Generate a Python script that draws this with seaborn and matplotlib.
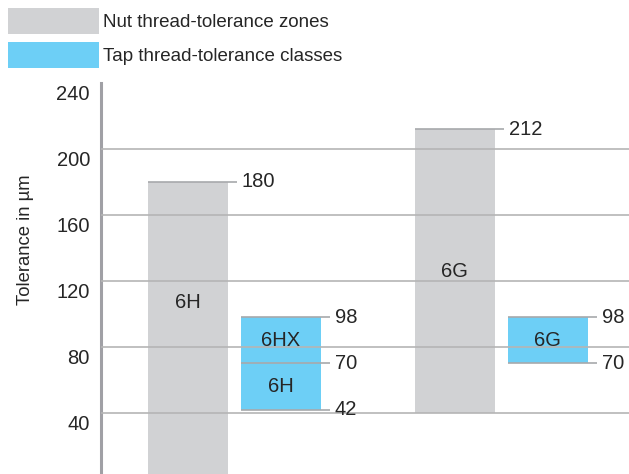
import pandas as pd
import matplotlib.pyplot as plt
import matplotlib.transforms as mtransforms
from matplotlib.patches import Patch
import seaborn as sns

# data
nut_pos = [0.0, 2.87]
nut_low = [0, 40]
nut_high = [180, 212]
nut_names = ["6H", "6G"]

tap_pos = [1.0, 3.87]
tap_low = [42, 70]
tap_high = [98, 98]
tap_marks = [[42, 70, 98], [70, 98]]
tap_names = [["6H", "6HX"], ["6G"]]

yticks = [40, 80, 120, 160, 200, 240]

GREY = "#d1d2d4"
BLUE = "#6dcff6"
LINE = "#a7a9ac"
FS = 14.5

sns.set_style("white")
plt.rcParams['font.family'] = ['Liberation Sans', 'DejaVu Sans']

fig = plt.figure(figsize=(6.29, 4.74), dpi=100)
ax = fig.add_axes([101 / 629, 0, 528 / 629, 391 / 474])

nut = pd.DataFrame({"pos": nut_pos,
                    "size": [h - l for h, l in zip(nut_high, nut_low)]})
tap = pd.DataFrame({"pos": tap_pos,
                    "size": [h - l for h, l in zip(tap_high, tap_low)]})

bar_w = 0.86
sns.barplot(data=nut, x="pos", y="size", native_scale=True,
            width=bar_w / (nut_pos[1] - nut_pos[0]), bottom=nut_low,
            color=GREY, saturation=1, linewidth=0, errorbar=None, ax=ax)
sns.barplot(data=tap, x="pos", y="size", native_scale=True,
            width=bar_w / (tap_pos[1] - tap_pos[0]), bottom=tap_low,
            color=BLUE, saturation=1, linewidth=0, errorbar=None, ax=ax)

# value lines + labels
ext = 0.1
for p, hi in zip(nut_pos, nut_high):
    ax.hlines(hi, p - bar_w / 2, p + bar_w / 2 + ext, color=LINE, lw=1.2, zorder=3)
    ax.text(p + bar_w / 2 + ext + 0.05, hi, str(hi), va="center", ha="left", fontsize=FS)
for p, marks in zip(tap_pos, tap_marks):
    for m in marks:
        ax.hlines(m, p - bar_w / 2, p + bar_w / 2 + ext, color=LINE, lw=1.2, zorder=3)
        ax.text(p + bar_w / 2 + ext + 0.05, m, str(m), va="center", ha="left", fontsize=FS)

# names inside bars
ax.text(nut_pos[0], 107, nut_names[0], ha="center", va="center", fontsize=FS)
ax.text(nut_pos[1], (nut_low[1] + nut_high[1]) / 2, nut_names[1], ha="center", va="center", fontsize=FS)
for p, marks, names in zip(tap_pos, tap_marks, tap_names):
    for lo, hi, nm in zip(marks[:-1], marks[1:], names):
        ax.text(p, (lo + hi) / 2, nm, ha="center", va="center", fontsize=FS)

ax.set_xlim(-0.935, 4.742)
ax.set_ylim(3, 240)
ax.set_yticks(yticks)
ax.set_xticks([])
ax.set_xlabel("")
ax.set_ylabel("Tolerance in µm", fontsize=13.3)
ax.yaxis.set_label_coords(-0.127, 0.60)
ax.tick_params(axis="y", length=0, pad=8, labelsize=FS)

ax.set_axisbelow(False)
ax.yaxis.grid(True, color="#b5b5b5", lw=1.2)
ax.yaxis.get_gridlines()[-1].set_visible(False)

for s in ["top", "right", "bottom"]:
    ax.spines[s].set_visible(False)
ax.spines["left"].set_color("#a0a0a5")
ax.spines["left"].set_linewidth(2.2)

shift = mtransforms.ScaledTranslation(0, -10 / 100, fig.dpi_scale_trans)
for lab in ax.get_yticklabels():
    lab.set_transform(lab.get_transform() + shift)

handles = [Patch(color=GREY, lw=0), Patch(color=BLUE, lw=0)]
fig.legend(handles, ["Nut thread-tolerance zones", "Tap thread-tolerance classes"],
           loc="upper left", bbox_to_anchor=(8 / 629, 1 - 8 / 474), frameon=False,
           fontsize=13.5, handlelength=4.85, handleheight=1.76, handletextpad=0.21,
           labelspacing=0.43, borderpad=0, borderaxespad=0)

fig.savefig("out.png", dpi=100)
